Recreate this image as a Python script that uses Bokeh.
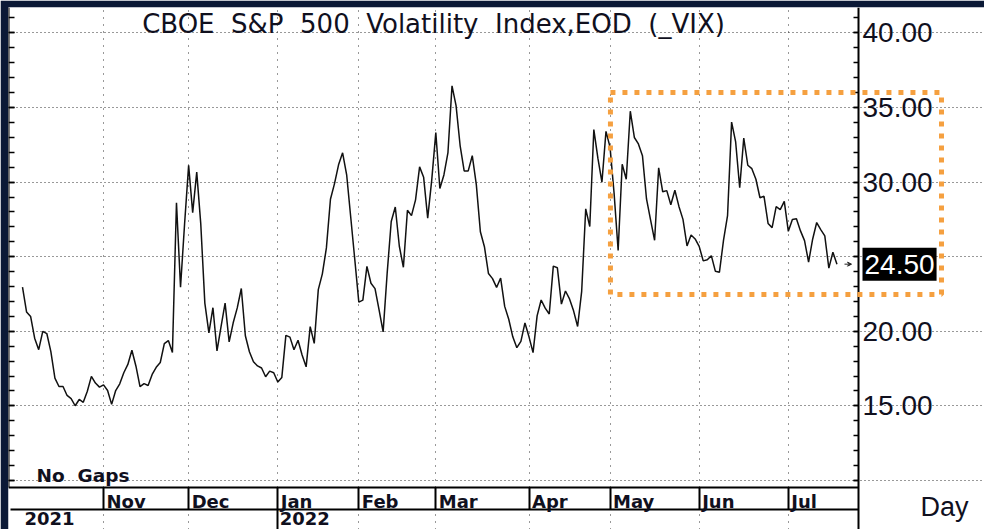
import datetime as dt
from bokeh.plotting import figure
from bokeh.models import (Range1d, LinearAxis, FixedTicker, PrintfTickFormatter,
                          BoxAnnotation, Label, LabelSet, Arrow, VeeHead, ColumnDataSource)
from bokeh.core.properties import value
from bokeh.embed import file_html
from bokeh.resources import INLINE

# ---------------- data (CBOE VIX daily close, "no gaps" day axis) ----------------
oct21_days = [4, 5, 6, 7, 8, 11, 12, 13, 14, 15, 18, 19, 20, 21, 22, 25, 26, 27, 28, 29]
oct21 = [22.96, 21.30, 21.00, 19.54, 18.77, 20.00, 19.85, 18.64, 16.86, 16.30,
         16.30, 15.70, 15.49, 15.01, 15.43, 15.24, 15.98, 16.98, 16.53, 16.26]
nov21_days = [1, 2, 3, 4, 5, 8, 9, 10, 11, 12, 15, 16, 17, 18, 19, 22, 23, 24, 26, 29, 30]
nov21 = [16.41, 16.03, 15.10, 16.03, 16.48, 17.22, 17.78, 18.73, 17.66, 16.29,
         16.49, 16.37, 17.11, 17.59, 17.91, 19.17, 19.38, 18.58, 28.62, 22.96, 27.19]
dec21_days = [1, 2, 3, 6, 7, 8, 9, 10, 13, 14, 15, 16, 17, 20, 21, 22, 23, 27, 28, 29, 30, 31]
dec21 = [31.12, 27.95, 30.67, 27.18, 21.89, 19.90, 21.58, 18.69, 20.31, 21.89, 19.29,
         20.57, 21.57, 22.87, 19.70, 18.63, 17.96, 17.68, 17.54, 16.95, 17.33, 17.22]
jan22_days = [3, 4, 5, 6, 7, 10, 11, 12, 13, 14, 18, 19, 20, 21, 24, 25, 26, 27, 28, 31]
jan22 = [16.60, 16.91, 19.73, 19.61, 18.76, 19.40, 18.41, 17.62, 20.31, 19.19,
         22.79, 23.85, 25.59, 28.85, 29.90, 31.16, 31.96, 30.49, 27.66, 24.83]
feb22_days = [1, 2, 3, 4, 7, 8, 9, 10, 11, 14, 15, 16, 17, 18, 22, 23, 24, 25, 28]
feb22 = [21.96, 22.09, 24.35, 23.22, 22.86, 21.44, 19.96, 23.91, 27.36, 28.33,
         25.70, 24.29, 28.11, 27.75, 28.81, 31.02, 30.32, 27.59, 30.15]
mar22_days = [1, 2, 3, 4, 7, 8, 9, 10, 11, 14, 15, 16, 17, 18, 21, 22, 23, 24, 25, 28, 29, 30, 31]
mar22 = [33.32, 29.57, 30.48, 31.98, 36.45, 35.13, 32.45, 30.75, 30.75, 31.77, 29.83, 26.67,
         25.67, 23.87, 23.53, 22.94, 23.57, 21.67, 20.81, 19.63, 18.90, 19.33, 20.56]
apr22_days = [1, 4, 5, 6, 7, 8, 11, 12, 13, 14, 18, 19, 20, 21, 22, 25, 26, 27, 28, 29]
apr22 = [19.63, 18.57, 21.03, 22.10, 21.55, 21.16, 24.37, 24.26, 21.82, 22.70,
         22.17, 21.37, 20.32, 22.68, 28.21, 27.02, 33.52, 31.60, 29.99, 33.40]
may22_days = [2, 3, 4, 5, 6, 9, 10, 11, 12, 13, 16, 17, 18, 19, 20, 23, 24, 25, 26, 27, 30, 31]
may22 = [32.34, 29.25, 25.42, 31.20, 30.19, 34.75, 32.99, 32.56, 31.77, 28.87, 27.47,
         26.10, 30.96, 29.35, 29.43, 28.48, 29.45, 28.37, 27.50, 25.72, 26.45, 26.19]
jun22_days = [1, 2, 3, 6, 7, 8, 9, 10, 13, 14, 15, 16, 17, 20, 21, 22, 23, 24, 27, 28, 29, 30]
jun22 = [25.69, 24.72, 24.79, 25.07, 24.02, 23.96, 26.09, 27.75, 34.02, 32.69, 29.62,
         32.95, 31.13, 30.90, 30.19, 28.95, 29.05, 27.23, 26.95, 28.36, 28.16, 28.71]
jul22_days = [1, 4, 5, 6, 7, 8, 11, 12, 13, 14, 15, 18, 19]
jul22 = [26.70, 27.50, 27.54, 26.73, 26.08, 24.64, 26.17, 27.29, 26.82, 26.40, 24.23, 25.30, 24.50]

month_names = ["Nov", "Dec", "Jan", "Feb", "Mar", "Apr", "May", "Jun", "Jul"]
year_names = ["2021", "2022"]
y_ticks = [10, 15, 20, 25, 30, 35, 40]
y_minor = list(range(10, 42))
last_value = 24.50
title_text = "CBOE \u00a0S&P \u00a0500 \u00a0Volatility \u00a0Index,EOD \u00a0(_VIX)"

# ---------------- series on a trading-day index ----------------
blocks = [(2021, 10, oct21_days, oct21), (2021, 11, nov21_days, nov21),
          (2021, 12, dec21_days, dec21), (2022, 1, jan22_days, jan22),
          (2022, 2, feb22_days, feb22), (2022, 3, mar22_days, mar22),
          (2022, 4, apr22_days, apr22), (2022, 5, may22_days, may22),
          (2022, 6, jun22_days, jun22), (2022, 7, jul22_days, jul22)]
dates, values = [], []
for yy, mm, days, vals in blocks:
    for d, v in zip(days, vals):
        dates.append(dt.date(yy, mm, d))
        values.append(v)
idx = list(range(len(values)))
month_starts = [i for i in range(1, len(dates)) if dates[i].month != dates[i - 1].month]
year_starts = [0] + [i for i in range(1, len(dates)) if dates[i].year != dates[i - 1].year]

# ---------------- view geometry (pixels per unit) ----------------
PX_X = 4.052      # px per trading day
PX_Y = 14.92      # px per VIX point
FRAME_L, FRAME_T = 8, 7
W, H = 984, 529
X0 = -14 / PX_X                          # first day sits 14px inside the frame
X1 = X0 + (W - FRAME_L) / PX_X
Y1 = 10 + (480 - FRAME_T) / PX_Y         # 10.00 line at 480px
Y0 = Y1 - (H - FRAME_T) / PX_Y
XR = X0 + 850 / PX_X                     # price-axis position
YM = 10 - 7 / PX_Y                       # month row top
YY = 10 - 29 / PX_Y                      # year row top

TXT = "#10101e"
NAVY = "#0b1936"

p = figure(width=W, height=H, x_range=Range1d(X0, X1), y_range=Range1d(Y0, Y1),
           output_backend="svg", toolbar_location=None,
           x_axis_location=None, y_axis_location=None,
           min_border=0, min_border_left=FRAME_L, min_border_top=FRAME_T)
p.outline_line_color = None
p.background_fill_color = "white"
p.border_fill_color = NAVY

# dotted grids
p.xgrid.ticker = FixedTicker(ticks=month_starts)
p.xgrid.bounds = (YM, Y1)
p.xgrid.grid_line_color = "#333333"
p.xgrid.grid_line_dash = "1 6"
p.ygrid.ticker = FixedTicker(ticks=y_ticks)
p.ygrid.bounds = (X0, XR)
p.ygrid.grid_line_color = "#333333"
p.ygrid.grid_line_dash = "1 3"

axis_style = dict(axis_line_color="black", axis_line_width=2,
                  major_tick_line_color="black", minor_tick_line_color="black",
                  major_tick_line_width=1.5, minor_tick_line_width=1.5)

# right price axis (25.00 is covered by the last-value tag)
ry = LinearAxis(ticker=FixedTicker(ticks=y_ticks, minor_ticks=y_minor),
                formatter=PrintfTickFormatter(format="%.2f"),
                major_label_overrides={10: "", 25: ""}, fixed_location=XR, bounds=(Y0, Y1),
                major_tick_in=5, major_tick_out=0, minor_tick_in=5, minor_tick_out=0,
                major_label_standoff=4,
                major_label_text_font="Liberation Sans", major_label_text_font_size="28px",
                major_label_text_color=TXT, **axis_style)
p.add_layout(ry, "right")

# left tick-only axis
ly = LinearAxis(ticker=FixedTicker(ticks=y_ticks, minor_ticks=y_minor),
                major_label_overrides={t: "" for t in y_ticks},
                major_label_text_font_size="0px", fixed_location=X0, bounds=(YM, Y1),
                major_tick_in=6, major_tick_out=0, minor_tick_in=6, minor_tick_out=0,
                **axis_style)
p.add_layout(ly, "left")

# month row separators
ax_m = LinearAxis(ticker=FixedTicker(ticks=month_starts),
                  major_label_overrides={t: "" for t in month_starts},
                  major_label_text_font_size="0px", fixed_location=YM, bounds=(X0, XR),
                  major_tick_in=0, major_tick_out=22, minor_tick_in=0, minor_tick_out=0,
                  **axis_style)
ax_m.major_tick_line_width = 2
p.add_layout(ax_m, "below")

# year row separators
ax_y = LinearAxis(ticker=FixedTicker(ticks=year_starts[1:]),
                  major_label_overrides={t: "" for t in year_starts[1:]},
                  major_label_text_font_size="0px", fixed_location=YY, bounds=(X0 + 0.5, XR),
                  major_tick_in=0, major_tick_out=22, minor_tick_in=0, minor_tick_out=0,
                  **axis_style)
ax_y.major_tick_line_width = 2
p.add_layout(ax_y, "below")

# month and year labels (left aligned just right of the separators)
msrc = ColumnDataSource(data=dict(x=month_starts, y=[YM - 20 / PX_Y] * len(month_starts),
                                  t=month_names))
p.add_layout(LabelSet(x="x", y="y", text="t", source=msrc, x_offset=3,
                      text_align="left", text_baseline="alphabetic",
                      text_font=value("DejaVu Sans"), text_font_style="bold",
                      text_font_size="18px", text_color=TXT))
ysrc = ColumnDataSource(data=dict(x=year_starts, y=[YY - 15 / PX_Y] * len(year_starts),
                                  t=year_names))
p.add_layout(LabelSet(x="x", y="y", text="t", source=ysrc, x_offset=2,
                      text_align="left", text_baseline="alphabetic",
                      text_font=value("DejaVu Sans"), text_font_style="bold",
                      text_font_size="18px", text_color=TXT))

# price line
p.line(x=idx, y=values, line_color="#111111", line_width=1.5)

# highlight box
box = BoxAnnotation(left=145.1, right=226.8, top=36.0, bottom=22.47,
                    fill_alpha=0, line_color="#f5a040", line_alpha=1.0,
                    line_width=5, line_dash="5 7")
p.add_layout(box)

# free texts: title, "No Gaps", "Day"
tsrc = ColumnDataSource(data=dict(x=[(X0 + XR) / 2], y=[40], t=[title_text]))
p.add_layout(LabelSet(x="x", y="y", text="t", source=tsrc, text_align="center",
                      text_baseline="alphabetic", text_font=value("DejaVu Sans"),
                      text_font_size="26px", text_color=TXT))
gsrc = ColumnDataSource(data=dict(x=[X0 + 28 / PX_X], y=[10 - 1 / PX_Y], t=["No \u00a0Gaps"]))
p.add_layout(LabelSet(x="x", y="y", text="t", source=gsrc, text_align="left",
                      text_baseline="alphabetic", text_font=value("DejaVu Sans"),
                      text_font_style="bold", text_font_size="18.5px", text_color=TXT))
dsrc = ColumnDataSource(data=dict(x=[X0 + 912 / PX_X], y=[10 - 35 / PX_Y], t=["Day"]))
p.add_layout(LabelSet(x="x", y="y", text="t", source=dsrc, text_align="left",
                      text_baseline="alphabetic", text_font=value("Liberation Sans"),
                      text_font_size="27px", text_color=TXT))

# last value marker
p.add_layout(Arrow(end=VeeHead(size=4, line_color="#222222", fill_color="#222222", line_width=1),
                   x_start=XR - 14 / PX_X, y_start=last_value, x_end=XR - 7 / PX_X,
                   y_end=last_value, line_color="#222222", line_width=1))
p.add_layout(Label(x=XR + 4 / PX_X, y=last_value, text="%.2f" % last_value, text_align="left",
                   text_baseline="middle", text_font="Liberation Sans",
                   text_font_size="28px", text_color="white",
                   background_fill_color="black", padding=(2, 7)))

open("out.html", "w").write(file_html(p, INLINE))
